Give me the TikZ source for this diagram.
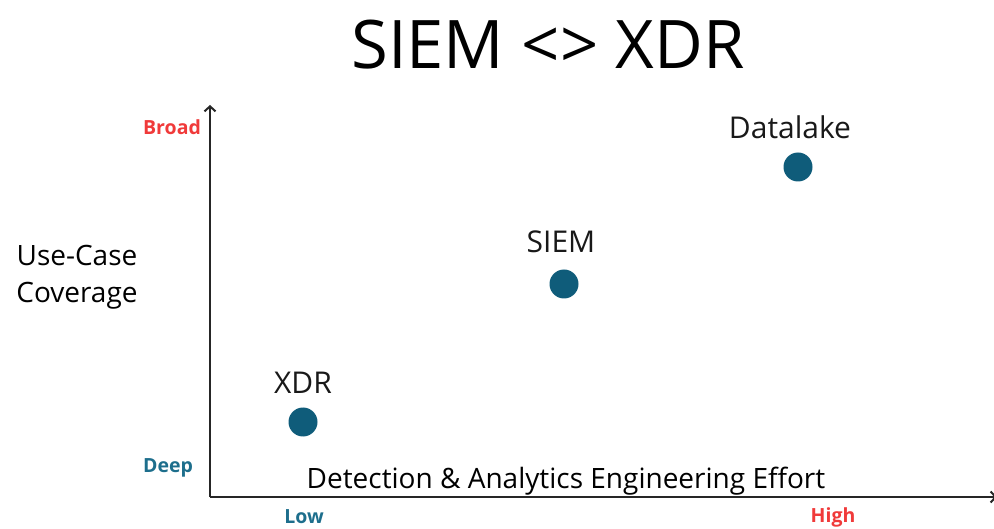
\documentclass[tikz,border=0pt]{standalone}
\usepackage{fontspec}
\setmainfont{Open Sans}
\usetikzlibrary{arrows.meta}
\definecolor{dotblue}{HTML}{0F5C7A}
\definecolor{tealtxt}{HTML}{1D6E8C}
\definecolor{redtxt}{HTML}{F03A3A}
\begin{document}
\begin{tikzpicture}[x=1pt,y=-1pt,
  axis/.style={line width=2.4pt,draw=black!85,-{Straight Barb[length=5pt,width=11pt,line width=2pt]}},
  dot/.style={circle,fill=dotblue,minimum size=29pt,inner sep=0pt},
  dotlabel/.style={font=\fontsize{30}{32}\selectfont,text=black!90},
  ticklab/.style={font=\bfseries\fontsize{19.5}{21}\selectfont}]
\useasboundingbox (0,0) rectangle (994,529);
% title
\node (title) at (548,45) {\fontsize{67}{70}\selectfont SIEM <> XDR};
% axes
\coordinate (origin) at (210,497);
\coordinate (ytop) at (210,105);
\coordinate (xend) at (997,497);
\draw[axis] (origin) -- (ytop);
\draw[axis] (origin) -- (xend);
% axis labels
\node[font=\fontsize{28}{37}\selectfont,align=center] (ylab) at (77,277) {Use-Case\\Coverage};
\node[font=\fontsize{28}{30}\selectfont] (xlab) at (566,481) {Detection \& Analytics Engineering Effort};
\node[ticklab,text=redtxt] (broad) at (172,127) {Broad};
\node[ticklab,text=tealtxt] (deep) at (168,468) {Deep};
\node[ticklab,text=tealtxt] (low) at (304,517) {Low};
\node[ticklab,text=redtxt] (high) at (833,517) {High};
% data points
\node[dot] (datalake) at (798,167) {};
\node[dot] (siem) at (564,284) {};
\node[dot] (xdr) at (303,422) {};
\node[dotlabel] (datalakelab) at (790,127) {Datalake};
\node[dotlabel] (siemlab) at (561,242) {SIEM};
\node[dotlabel] (xdrlab) at (303,383) {XDR};
\end{tikzpicture}
\end{document}
